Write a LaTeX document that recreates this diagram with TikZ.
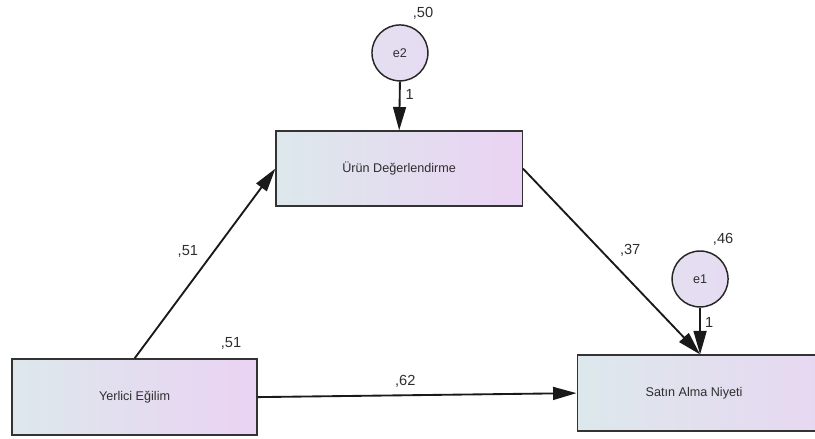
\documentclass[tikz,border=0pt]{standalone}
\usepackage{fontspec}
\setmainfont{Liberation Sans}
\usepackage{xcolor}
\usepackage{tikz}
\usetikzlibrary{arrows.meta,calc}
\definecolor{boxleft}{RGB}{221,232,236}
\definecolor{boxright}{RGB}{234,211,243}
\definecolor{errfill}{RGB}{230,220,242}
\definecolor{labgray}{RGB}{45,45,45}

\begin{document}
\begin{tikzpicture}[>={Triangle[length=0.62cm,width=0.34cm]},
    varbox/.style={draw=black!80,line width=1.1pt,rectangle,left color=boxleft,right color=boxright,
        text=labgray,font=\fontsize{9.5}{11}\selectfont,inner sep=0pt},
    errnode/.style={draw=black!85,line width=1.1pt,circle,left color=errfill!80!boxleft,right color=errfill,
        minimum size=1.48cm,text=labgray,font=\fontsize{9.5}{11}\selectfont,inner sep=0pt},
    pathline/.style={->,line width=1.4pt,black!90},
    coef/.style={text=labgray,font=\fontsize{11}{13}\selectfont,inner sep=0pt}]
    % 画布范围（与原图比例一致）
    \useasboundingbox (0,0) rectangle (21.56,11.59);

    % 观测变量（方框）
    \node[varbox,minimum width=6.48cm,minimum height=2.01cm] (yerlici) at (3.56,1.085) {Yerlici Eğilim};
    \node[varbox,minimum width=6.51cm,minimum height=1.98cm] (urun) at (10.56,7.13) {Ürün Değerlendirme};
    % 右侧方框超出画面
    \node[varbox,minimum width=8.4cm,minimum height=2.01cm] (satin) at (19.47,1.19) {};
    \node[text=labgray,font=\fontsize{9.5}{11}\selectfont] (satintext) at (18.36,1.19) {Satın Alma Niyeti};

    % 误差项（圆）
    \node[errnode] (e2) at (10.58,10.19) {e2};
    \node[errnode] (e1) at (18.52,4.21) {e1};
    \coordinate (satintop) at (e1.south |- satin.north);

    % 路径箭头
    \draw[pathline] (yerlici.north) -- (urun.west);
    \draw[pathline] (yerlici.east) -- (satin.west);
    \draw[pathline] (urun.east) -- (satintop);
    \draw[pathline] (e2.south) -- (urun.north);
    \draw[pathline] (e1.south) -- (satintop);

    % 系数标注
    \node[coef] (c50) at (11.19,11.24) {,50};
    \node[coef] (one2) at (10.84,9.08) {1};
    \node[coef] (c46) at (19.13,5.27) {,46};
    \node[coef] (one1) at (18.76,3.07) {1};
    \node[coef] (c37) at (16.67,4.97) {,37};
    \node[coef] (c51a) at (4.97,4.95) {,51};
    \node[coef] (c51b) at (6.11,2.51) {,51};
    \node[coef] (c62) at (10.72,1.51) {,62};
\end{tikzpicture}
\end{document}
